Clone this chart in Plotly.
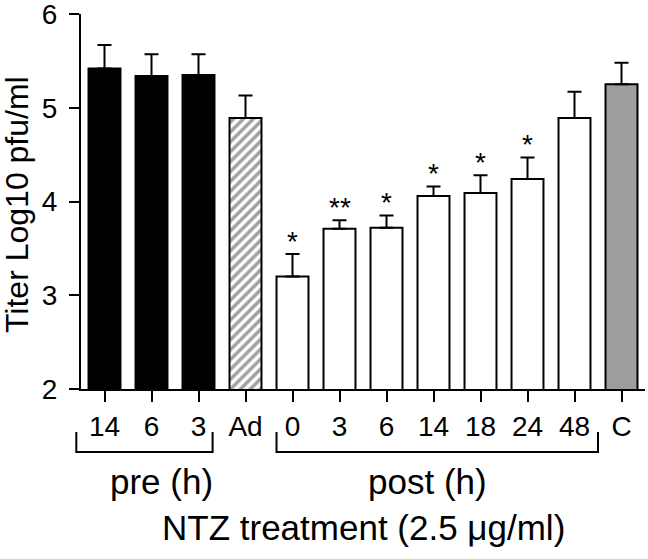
import plotly.graph_objects as go

# ---- data ----
tick_labels = ["14", "6", "3", "Ad", "0", "3", "6", "14", "18", "24", "48", "C"]
titer = [5.42, 5.34, 5.35, 4.89, 3.20, 3.71, 3.72, 4.06, 4.09, 4.24, 4.89, 5.25]
sem = [0.25, 0.23, 0.22, 0.24, 0.24, 0.09, 0.13, 0.10, 0.19, 0.23, 0.28, 0.23]
signif = ["", "", "", "", "*", "**", "*", "*", "*", "*", "", ""]
y_ticks = [2, 3, 4, 5, 6]
bar_colors = ["black", "black", "black", "white"] + ["white"] * 7 + ["#9e9e9e"]
bar_patterns = ["", "", "", "/"] + [""] * 8

groups = [("pre (h)", -0.6, 2.3, 1.21), ("post (h)", 3.66, 10.5, 6.87)]

W, H = 648, 559
L, R, T, B = 81, 3, 14, 170
PW, PH = W - L - R, H - T - B
FONT = "Liberation Sans, Arial, Helvetica, sans-serif"

xs = list(range(len(tick_labels)))
n = len(xs)


def cx(c):  # category coordinate -> paper x
    return (c + 0.5) / n


def px(p):  # pixel x -> paper x
    return (p - L) / PW


def py(p):  # pixel y -> paper y
    return (H - B - p) / PH


fig = go.Figure()
fig.add_trace(go.Bar(
    x=xs, y=titer, width=0.68,
    marker=dict(color=bar_colors, line=dict(color="black", width=2),
                pattern=dict(shape=bar_patterns, fgcolor="black", bgcolor="white",
                             size=7, solidity=0.5)),
    error_y=dict(type="data", symmetric=False, array=sem, arrayminus=[0] * n,
                 color="black", thickness=2, width=7),
    showlegend=False, cliponaxis=False,
))

annotations = []
for x, v, e, s in zip(xs, titer, sem, signif):
    if s:
        annotations.append(dict(x=x, y=v + e, xref="x", yref="y", text=s, showarrow=False,
                                yanchor="middle", yshift=13,
                                font=dict(size=28, color="black", family=FONT)))

shapes = []
for label, a, b, c in groups:
    y0, y1 = py(452), py(432)
    shapes.append(dict(type="path", xref="paper", yref="paper",
                       path=f"M {cx(a)} {y1} L {cx(a)} {y0} L {cx(b)} {y0} L {cx(b)} {y1}",
                       line=dict(color="black", width=2)))
    annotations.append(dict(x=cx(c), y=py(481), xref="paper", yref="paper", text=label,
                            showarrow=False, xanchor="center", yanchor="middle",
                            font=dict(size=35, color="black", family=FONT)))

annotations.append(dict(x=px(363), y=py(527), xref="paper", yref="paper",
                        text="NTZ treatment (2.5 \u03bcg/ml)", showarrow=False,
                        xanchor="center", yanchor="middle",
                        font=dict(size=35, color="black", family=FONT)))
annotations.append(dict(x=px(17), y=py(205), xref="paper", yref="paper",
                        text="Titer Log10 pfu/ml", textangle=-90, showarrow=False,
                        xanchor="center", yanchor="middle", borderpad=0,
                        font=dict(size=32, color="black", family=FONT)))

fig.update_layout(
    width=W, height=H, autosize=False,
    margin=dict(l=L, r=R, t=T, b=B, autoexpand=False),
    paper_bgcolor="white", plot_bgcolor="white",
    font=dict(family=FONT, color="black"),
    annotations=annotations, shapes=shapes,
    xaxis=dict(range=[-0.5, n - 0.5], tickvals=xs, ticktext=tick_labels,
               ticks="outside", ticklen=11, tickwidth=2, tickcolor="black",
               showline=True, linecolor="black", linewidth=2,
               showgrid=False, zeroline=False, automargin=False,
               ticklabeloverflow="allow",
               tickfont=dict(size=28, color="black", family=FONT)),
    yaxis=dict(range=[2, 6], tickvals=y_ticks, ticktext=[str(t) for t in y_ticks],
               ticks="outside", ticklen=10, tickwidth=2, tickcolor="black",
               showline=True, linecolor="black", linewidth=2,
               showgrid=False, zeroline=False, automargin=False, ticklabelstandoff=6,
               ticklabeloverflow="allow",
               tickfont=dict(size=28, color="black", family=FONT)),
)

fig.write_html("out.html", config={"displayModeBar": False},
               post_script="document.body.style.margin='0';document.body.style.padding='0';")
